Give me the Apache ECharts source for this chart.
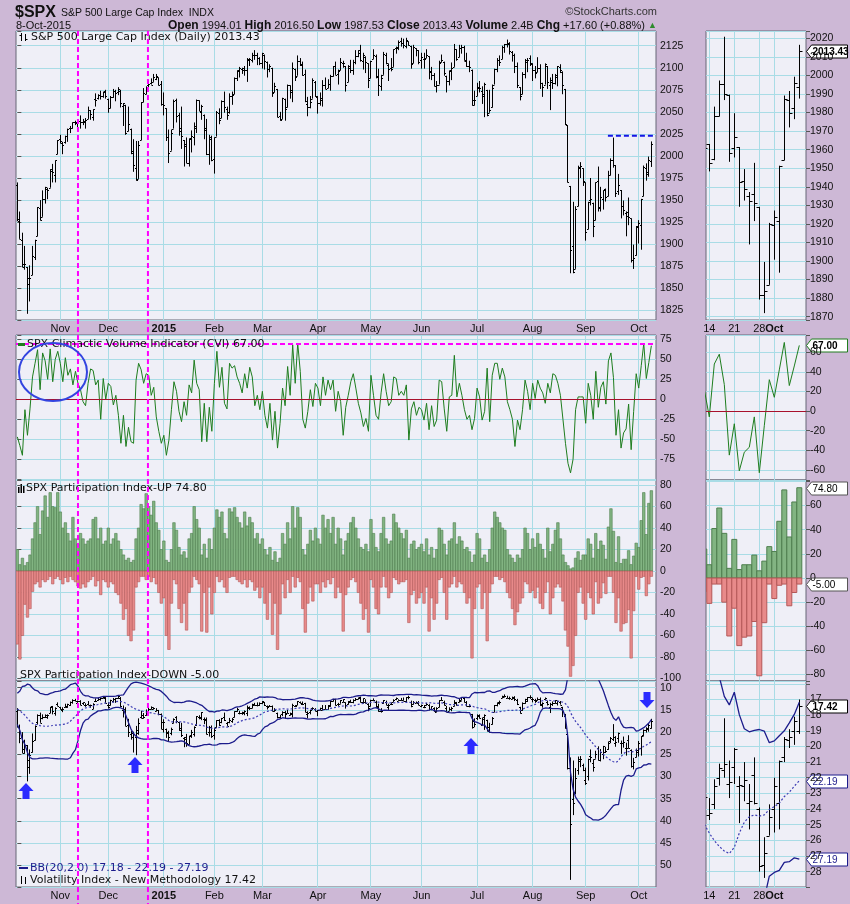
<!DOCTYPE html>
<html><head><meta charset="utf-8">
<script src="https://cdn.jsdelivr.net/npm/echarts@6/dist/echarts.min.js"></script>
<style>html,body{margin:0;padding:0;background:#CDB8D6;}#c{width:850px;height:904px;}</style>
</head><body><div id="c"></div>
<script>
// ---------------- DATA ----------------
const monthLabels = ['Nov','Dec','2015','Feb','Mar','Apr','May','Jun','Jul','Aug','Sep','Oct'];
const monthStartIdx = [17,36,58,78,97,119,140,160,182,204,225,246];
const dayLabels = ['14','21','28','Oct'];
const dayIdx = [233,238,243,246];

const spxOpen = [1967,1926,1905,1877,1874,1855,1865,1885,1909,1941,1931,1951,1962,1964,1983,1978,2002,
2019,2015,2016,2023,2032,2032,2039,2037,2040,2039,2038,2042,2052,2044,2065,2066,2069,2068,2074,
2065,2054,2067,2074,2072,2074,2057,2058,2028,2031,2006,1986,1974,2018,2061,2070,2081,2083,2084,2087,2089,2082,
2059,2054,2022,2006,2031,2063,2047,2032,2018,2014,1992,2020,2021,2034,2063,2050,2047,2032,2002,2019,
1997,2022,2049,2043,2062,2053,2050,2068,2070,2088,2096,2099,2098,2097,2109,2109,2115,2114,2111,
2105,2115,2107,2099,2100,2072,2076,2045,2042,2065,2055,2080,2073,2099,2091,2108,2103,2093,2059,2056,2065,2084,
2067,2060,2064,2081,2077,2082,2091,2102,2093,2097,2105,2102,2084,2102,2098,2107,2113,2120,2108,2112,2105,
2088,2110,2113,2091,2079,2092,2115,2103,2100,2101,2122,2122,2130,2128,2125,2130,2125,2105,2122,2120,
2109,2110,2111,2113,2095,2092,2079,2081,2106,2107,2091,2085,2097,2101,2121,2112,2122,2124,2109,2102,2098,2064,
2068,2078,2074,2070,2075,2049,2055,2081,2099,2109,2110,2124,2127,2127,2118,2114,2102,2078,2070,2093,2107,2111,
2105,2097,2095,2100,2083,2081,2102,2081,2084,2083,2090,2101,2095,2076,2035,1966,1898,1872,1943,1986,1986,
1970,1917,1950,1947,1927,1972,1941,1951.45,1963.06,1955.10,1978.02,1995.33,1989.66,1960.84,1961.39,1943.24,1934.81,1935.93,1929.18,1881.90,1887.14,
1919.65,1921.77,1954.33,1986.63,1982.34,1994.01];
const spxHigh = [1970,1937,1913,1898,1874,1876,1898,1905,1942,1950,1961,1965,1964,1985,1991,1995,2018,
2024,2016,2023,2031,2034,2038,2040,2039,2046,2042,2043,2056,2052,2053,2071,2070,2074,2073,2075,
2065,2068,2076,2075,2078,2075,2060,2058,2056,2031,2019,2017,2017,2061,2077,2079,2086,2088,2093,2093,2089,2085,
2072,2054,2030,2030,2064,2065,2049,2056,2018,2021,2020,2029,2038,2064,2063,2058,2047,2042,2024,2023,
2021,2051,2054,2063,2073,2056,2071,2073,2089,2097,2101,2100,2102,2111,2111,2117,2120,2117,2112,
2117,2115,2107,2104,2100,2083,2076,2050,2066,2065,2081,2080,2106,2099,2114,2111,2107,2098,2067,2068,2088,2085,
2068,2072,2086,2089,2087,2092,2102,2107,2098,2111,2108,2102,2103,2109,2109,2120,2120,2126,2117,2113,2105,
2108,2121,2115,2099,2092,2118,2117,2105,2111,2121,2124,2131,2134,2133,2134,2130,2125,2126,2122,2120,
2117,2117,2121,2113,2101,2094,2085,2108,2115,2107,2091,2097,2106,2127,2121,2126,2126,2125,2117,2108,2098,2074,
2083,2085,2079,2083,2075,2075,2081,2099,2111,2114,2125,2127,2132,2129,2119,2116,2106,2078,2095,2110,2111,2114,
2105,2102,2112,2104,2083,2105,2102,2089,2093,2093,2102,2104,2096,2076,2035,1966,1948,1943,1989,1993,1986,
1970,1948,1975,1947,1970,1988,1965,1961.05,1963.06,1983.19,1997.26,2020.86,1989.66,1979.64,1961.39,1949.52,1937.17,1952.89,1929.18,1899.48,1920.53,
1927.21,1951.36,1989.17,1991.62,1999.31,2016.50];
const spxLow = [1926,1906,1874,1871,1821,1835,1865,1882,1909,1927,1931,1946,1951,1964,1970,1970,2002,
2014,2002,2014,2016,2026,2031,2035,2031,2031,2035,2031,2042,2041,2040,2056,2064,2064,2066,2065,
2049,2054,2066,2062,2069,2055,2034,2024,2028,2002,1982,1972,1974,2018,2061,2070,2078,2081,2084,2086,2080,2057,
2046,2017,1992,2006,2031,2038,2023,2008,1988,1992,1988,2004,2012,2026,2051,2041,2019,2001,1990,1994,
1980,2022,2036,2043,2049,2041,2048,2058,2070,2085,2089,2093,2091,2084,2102,2106,2109,2103,2103,
2099,2098,2089,2095,2067,2072,2044,2040,2042,2040,2055,2065,2061,2085,2091,2102,2091,2061,2045,2054,2065,2067,
2048,2057,2056,2076,2077,2074,2090,2092,2081,2097,2100,2073,2084,2094,2092,2104,2112,2107,2098,2094,2077,
2088,2110,2088,2068,2074,2092,2104,2085,2096,2101,2116,2120,2124,2122,2122,2125,2099,2105,2113,2104,
2099,2099,2111,2087,2086,2079,2072,2081,2106,2091,2072,2080,2086,2101,2108,2112,2116,2108,2101,2095,2057,2057,
2068,2072,2059,2044,2045,2049,2055,2081,2095,2102,2110,2117,2123,2115,2107,2094,2077,2063,2070,2088,2095,2102,
2085,2088,2095,2076,2067,2081,2076,2052,2076,2081,2079,2094,2070,2035,1970,1867,1867,1872,1943,1975,1966,
1904,1917,1944,1908,1927,1937,1937,1939.19,1948.27,1954.30,1977.93,1986.73,1953.45,1955.80,1929.22,1932.57,1908.92,1921.50,1879.21,1871.91,1887.14,
1900.70,1893.70,1954.33,1971.99,1976.44,1987.53];
const spxClose = [1928,1906,1874,1878,1862,1862,1887,1905,1942,1927,1951,1965,1961,1985,1982,1995,2018,
2017,2012,2023,2031,2032,2038,2039,2038,2039,2040,2041,2052,2048,2053,2064,2069,2068,2073,2068,
2054,2067,2074,2071,2076,2060,2060,2026,2036,2003,1990,1973,2013,2061,2071,2078,2082,2081,2089,2091,2080,2059,
2058,2021,2003,2026,2062,2045,2028,2023,2011,1992,2019,2023,2032,2063,2051,2057,2030,2002,2021,1995,
2021,2050,2041,2062,2055,2047,2068,2069,2088,2097,2100,2100,2098,2110,2110,2115,2114,2111,2105,
2117,2108,2099,2102,2071,2079,2044,2041,2066,2053,2081,2075,2100,2090,2108,2104,2092,2062,2056,2061,2086,2068,
2060,2066,2081,2076,2082,2091,2102,2092,2096,2106,2105,2081,2100,2097,2107,2113,2117,2109,2115,2106,2086,
2108,2115,2089,2081,2088,2116,2105,2099,2099,2121,2123,2129,2128,2126,2131,2126,2104,2124,2120,2107,
2112,2110,2114,2096,2092,2079,2080,2105,2109,2094,2085,2096,2100,2121,2110,2122,2124,2108,2102,2101,2058,2063,
2077,2077,2068,2082,2046,2052,2077,2099,2109,2107,2124,2127,2128,2119,2114,2102,2080,2068,2093,2109,2109,2104,
2098,2094,2100,2083,2078,2104,2084,2086,2083,2092,2102,2097,2080,2036,1971,1893,1868,1940,1988,1989,1972,
1914,1948,1951,1921,1970,1942,1953,1961.05,1953.03,1978.09,1995.31,1990.20,1958.03,1966.97,1942.74,1938.76,1932.24,1931.34,1881.77,1884.09,1920.03,
1923.82,1951.36,1987.05,1979.92,1995.83,2013.43];

const vixOpen = [15.2,18.9,21.0,23.7,23.0,27.8,24.4,21.7,17.8,16.1,16.8,16.5,16.6,15.6,14.2,15.8,13.6,
14.3,15.1,14.3,14.4,13.8,13.3,12.8,13.4,13.0,13.5,14.0,13.6,13.9,14.7,13.0,12.8,12.5,12.4,12.4,
13.9,13.9,13.0,12.6,12.4,12.2,15.1,14.7,18.4,20.5,20.2,21.2,20.3,16.5,16.1,16.2,14.3,14.9,14.7,15.2,15.1,15.9,
17.8,19.2,20.3,20.2,17.9,16.6,17.8,19.0,21.4,21.1,22.7,20.7,20.4,18.3,16.7,16.9,17.0,17.0,19.9,19.9,
20.6,18.8,17.3,17.8,16.5,18.0,17.7,17.4,16.6,15.3,15.7,15.6,15.7,15.8,14.6,14.6,13.9,13.8,14.0,
13.5,13.3,14.1,14.1,14.1,15.2,15.7,16.6,16.0,15.5,15.6,16.2,15.9,14.1,13.8,13.3,13.6,13.5,15.9,15.4,14.6,14.9,
15.3,15.0,15.0,14.7,14.9,14.1,13.0,12.6,13.7,13.6,13.1,13.3,13.6,13.0,13.3,12.8,12.5,12.0,13.3,13.1,13.6,
14.2,12.7,13.1,14.2,15.3,13.4,13.2,14.3,13.6,13.1,12.6,12.9,12.7,12.7,13.0,12.1,13.1,13.7,13.5,13.4,
14.2,14.3,14.0,13.8,14.8,14.5,15.4,14.4,12.8,13.3,14.6,15.2,14.9,14.2,13.5,13.1,12.9,12.4,13.2,14.1,15.9,17.6,
16.9,16.3,18.3,16.7,17.3,18.9,18.2,15.4,14.0,13.3,12.2,12.0,12.2,12.4,12.5,12.2,12.7,14.4,15.0,13.4,12.9,12.1,
12.6,12.8,12.8,12.6,14.0,12.6,13.1,14.4,13.7,13.5,13.5,13.1,14.4,16.4,20.4,28.0,35.0,33.5,28.6,26.4,27.4,
30.7,29.8,25.3,27.0,26.0,23.5,26.2,24.9,24.4,23.7,22.0,21.5,22.4,21.3,22.5,22.5,23.6,21.8,24.0,27.6,25.7,
24.0,23.6,20.7,19.6,19.0,19.0];
const vixHigh = [18.9,22.5,24.7,24.9,31.1,29.4,24.6,21.9,18.3,17.9,17.1,16.8,17.0,15.7,16.0,16.3,14.1,
14.9,15.5,14.5,14.5,14.1,13.6,13.0,13.4,13.9,13.9,14.3,13.9,14.5,14.8,13.2,12.9,12.9,12.4,13.4,
14.7,14.0,13.3,13.4,12.5,14.3,16.7,18.6,21.1,21.7,24.6,25.2,20.6,16.9,17.0,16.3,15.3,14.9,14.9,15.3,16.2,19.3,
20.1,21.3,22.0,20.7,18.0,18.0,19.7,21.1,23.4,23.3,22.8,21.3,21.0,18.6,17.1,17.3,18.2,20.5,21.0,21.3,
21.7,19.0,18.6,18.0,17.5,18.6,18.0,17.9,16.7,15.4,16.0,16.1,16.2,16.4,15.0,14.6,14.0,14.2,14.1,
13.7,14.1,14.9,14.3,15.3,15.4,16.9,16.9,16.4,17.0,15.7,16.2,16.7,14.3,13.9,13.5,13.9,15.5,16.9,16.0,15.0,15.3,
16.4,15.1,15.1,14.8,14.9,14.3,13.1,14.0,14.1,13.6,13.3,14.7,13.8,13.4,13.5,13.0,12.6,13.3,13.6,13.5,15.3,
14.2,12.9,14.6,15.4,15.6,13.6,13.9,15.0,13.9,13.2,12.8,12.9,12.9,12.9,13.3,12.6,14.4,13.8,13.5,13.9,
14.4,14.6,14.0,15.1,15.1,15.4,15.5,14.4,12.9,14.0,15.4,15.2,15.3,14.2,14.0,13.3,12.9,13.3,14.2,14.4,19.2,18.9,
17.3,16.9,18.5,19.5,19.8,20.1,18.3,15.5,14.2,13.8,12.3,12.1,12.3,12.7,12.6,13.0,13.9,15.8,15.2,13.6,13.2,12.5,
13.3,13.4,12.9,14.1,14.5,12.7,14.0,15.7,14.1,13.6,14.0,13.8,16.6,19.2,28.4,53.3,38.7,34.0,29.6,27.9,28.8,
31.9,30.9,26.8,28.9,26.0,26.4,26.6,26.1,24.7,24.0,22.5,22.0,23.3,22.4,24.9,23.5,25.3,23.7,28.0,28.4,25.7,
25.5,25.3,21.0,20.1,19.9,19.2];
const vixLow = [14.6,18.3,20.0,21.7,22.9,23.9,20.3,18.5,16.0,15.6,16.0,16.0,16.0,14.3,14.1,14.4,13.3,
14.3,14.4,13.6,13.6,13.1,12.6,12.5,12.9,12.8,13.3,13.5,13.0,13.8,13.5,12.4,12.2,12.2,12.0,12.1,
13.3,12.7,12.3,12.3,11.8,12.1,14.0,14.4,17.0,19.7,19.9,18.6,16.9,15.2,15.7,14.9,14.3,14.2,14.4,14.6,15.0,15.8,
17.1,19.2,19.7,19.0,16.9,16.4,17.7,17.9,21.1,20.4,20.8,19.5,18.7,16.4,16.2,15.5,16.7,16.7,18.6,18.5,
19.0,17.3,17.1,16.8,15.6,17.7,16.8,16.8,15.3,14.5,15.2,15.4,15.1,14.0,14.2,13.6,13.4,13.3,13.3,
13.0,13.2,14.0,13.9,14.0,14.6,15.6,16.1,15.3,15.2,15.0,15.6,13.6,13.9,13.0,13.1,13.1,13.4,15.3,15.0,14.4,14.6,
15.0,14.5,13.9,13.9,13.9,13.0,12.5,12.5,13.4,12.8,12.6,13.3,13.0,12.7,12.6,12.3,12.2,12.0,12.4,12.6,13.5,
12.7,12.4,12.9,13.6,14.6,12.8,12.9,13.6,13.3,12.6,12.2,12.6,12.3,12.2,12.1,11.8,12.9,13.0,13.1,13.0,
13.8,13.9,13.4,13.7,14.2,14.4,14.4,12.8,12.1,12.9,14.1,14.4,14.3,12.8,13.2,12.5,12.1,12.3,13.0,13.7,15.9,16.9,
16.0,16.0,16.7,16.0,17.2,17.9,16.6,13.9,13.3,12.9,11.8,11.5,11.8,12.0,12.0,11.9,12.5,14.3,13.3,12.5,12.1,11.7,
12.2,12.5,12.2,12.2,13.3,12.2,12.9,13.4,13.1,12.8,12.9,13.0,14.3,15.9,20.0,25.7,26.4,28.1,25.5,25.4,27.1,
28.0,26.0,23.9,26.1,24.2,23.2,23.8,23.1,23.3,22.1,21.1,18.2,20.9,20.1,21.9,21.0,22.4,20.7,23.9,25.8,23.7,
22.0,20.9,19.4,18.9,18.1,17.0];
const vixClose = [18.76,21.24,24.64,22.79,26.25,25.20,21.99,18.57,16.08,17.87,16.53,16.11,16.04,14.39,15.15,14.52,14.03,
14.73,14.89,14.17,13.67,13.12,12.67,12.92,13.02,13.79,13.31,13.99,13.86,13.96,13.58,12.90,12.62,12.25,12.07,13.33,
14.29,12.85,12.47,12.38,11.82,14.21,14.89,18.53,20.08,21.08,20.42,19.44,17.98,16.81,16.49,15.25,14.80,14.37,14.50,15.06,15.92,19.20,
17.79,19.92,21.12,19.31,17.01,17.55,19.60,20.56,21.48,22.39,20.95,19.89,18.85,16.40,16.66,15.52,17.22,20.44,18.76,20.97,
19.43,17.33,18.33,16.85,17.29,18.55,17.23,16.96,15.34,14.69,15.80,15.45,15.29,14.30,14.56,13.69,13.84,13.91,13.34,
13.04,13.86,14.23,14.04,15.20,15.06,16.69,16.87,15.42,16.00,15.61,15.66,13.97,14.07,13.02,13.41,13.62,15.44,15.80,15.07,14.51,15.29,
15.11,14.67,14.74,14.78,13.98,13.09,12.58,13.94,13.67,12.84,12.60,13.89,13.30,13.25,12.71,12.48,12.29,13.12,12.41,13.39,14.55,
12.70,12.85,14.31,15.15,15.13,12.86,13.85,13.86,13.76,12.74,12.38,12.73,12.85,12.88,12.11,12.13,14.06,13.27,13.31,13.84,
13.97,14.24,13.66,14.71,14.21,15.29,14.47,12.85,12.85,13.78,15.39,14.81,14.50,13.19,13.96,12.74,12.11,13.26,14.01,14.02,18.85,18.23,
16.09,16.79,17.01,16.09,19.66,19.97,16.83,13.90,13.37,13.23,11.95,11.95,12.25,12.22,12.12,12.64,13.74,15.60,13.44,12.50,12.13,12.12,
12.56,13.00,12.51,13.77,13.39,12.23,13.71,13.61,13.49,12.83,13.02,13.79,15.25,19.14,28.03,40.74,36.02,30.32,26.10,26.05,28.43,
31.40,26.09,25.61,27.80,24.90,26.23,24.37,23.20,24.25,22.54,21.35,21.14,22.28,20.14,22.44,22.13,23.47,23.62,27.63,26.83,24.50,
22.55,20.94,19.54,19.40,18.40,17.42];
// VIX closes of the 20 sessions before the first bar (needed for BB(20,2))
const vixPriorClose = [12.80,13.31,14.12,12.73,12.65,12.03,12.11,13.69,14.93,13.27,15.64,14.85,15.98,16.31,16.71,16.16,14.55,15.46,17.20,15.11];

const cvi = [-47,-58,-70,-13,-45,-12,28,45,62,12,58,48,25,63,22,50,60,
45,22,52,30,38,18,35,20,12,-3,-8,20,38,36,18,24,-25,26,0,
20,16,-7,5,-20,-55,-20,-59,-35,-53,-55,24,45,37,20,32,30,5,15,-22,-40,-55,
-45,-70,-51,-13,22,10,-15,-28,-3,-20,18,8,49,20,12,-53,-5,-53,-10,-40,
20,60,15,40,-5,-12,45,39,42,28,20,8,32,14,40,28,-8,5,-13,
10,-20,-36,-5,-51,-15,-61,-30,14,-8,41,5,68,20,70,35,-25,-36,-15,12,-9,20,
14,-8,28,5,24,12,24,-15,10,-3,-45,-10,5,22,32,14,-5,-17,-34,-24,-40,
30,5,-20,-25,8,32,10,-8,-3,28,26,5,10,5,18,-51,-12,-3,-20,-10,
-13,-26,-5,-38,-8,-34,-26,24,22,-12,-40,3,5,55,3,20,5,-13,-25,-20,-38,-24,
14,3,-26,-15,39,-28,30,45,45,25,39,28,-3,-13,-25,-59,-26,-38,-13,24,10,-13,
20,1,24,14,8,-5,20,8,32,30,20,5,-25,-55,-80,-92,-75,-13,3,3,3,
-30,20,5,-25,35,-10,15,22,-6,48,58,27,-45,-13,-61,-42,-37,-6,-63,-15,32,
14,42,70,26,46,67];

const piUp = [20,6,12,5,8,15,30,45,60,34,56,70,50,73,60,59,73,
55,40,45,35,28,50,30,25,35,30,25,28,30,48,50,30,40,25,28,
40,25,30,35,28,20,15,10,12,8,10,30,40,62,58,72,60,52,65,45,38,20,
28,10,8,20,45,38,22,15,18,12,30,35,60,48,40,15,25,12,30,20,
40,57,50,55,35,30,58,55,59,50,45,40,55,42,50,45,30,35,25,
30,20,15,22,10,18,8,12,35,25,45,30,60,40,59,50,20,15,25,38,28,40,
30,25,52,40,48,35,50,25,40,30,15,28,35,45,50,40,30,22,20,25,18,
48,35,22,18,35,50,30,25,28,53,45,40,35,30,38,12,25,28,20,22,
25,18,30,15,22,12,20,40,38,25,15,28,30,45,25,32,28,20,22,18,8,15,
35,30,12,15,8,20,40,55,50,45,40,38,20,15,12,8,15,12,20,40,35,20,
30,22,35,25,20,12,40,18,25,38,45,30,15,8,5,2,3,12,18,10,15,
15,30,25,12,35,20,28,24,11,41,58,37,8,32,7,11,11,19,6,14,26,
22,47,73,34,63,74.8];
const piDown = [-68,-82,-60,-31,-43,-35,-19,-12,-10,-15,-8,-10,-8,-5,-12,-7,-5,
-8,-12,-6,-10,-5,-8,-10,-14,-16,-12,-15,-10,-8,-5,-14,-9,-22,-8,-10,
-15,-10,-12,-20,-22,-30,-45,-35,-60,-65,-55,-15,-10,-5,-5,-8,-5,-10,-6,-12,-20,-30,
-25,-60,-73,-30,-8,-12,-35,-48,-30,-55,-20,-15,-5,-8,-12,-56,-20,-57,-15,-40,
-20,-5,-10,-8,-15,-20,-6,-5,-5,-8,-10,-12,-8,-15,-8,-10,-18,-15,-25,
-15,-30,-45,-20,-59,-30,-73,-40,-12,-25,-8,-20,-5,-15,-6,-10,-35,-57,-30,-15,-28,-12,
-12,-20,-10,-15,-8,-12,-6,-25,-15,-20,-56,-22,-15,-8,-6,-10,-20,-30,-45,-35,-57,
-8,-15,-35,-40,-15,-5,-15,-25,-20,-6,-8,-12,-10,-10,-8,-48,-22,-18,-30,-25,
-20,-30,-15,-56,-25,-45,-30,-8,-6,-20,-45,-15,-12,-5,-15,-10,-12,-20,-30,-25,-81,-35,
-15,-12,-35,-20,-65,-20,-12,-5,-5,-8,-6,-10,-20,-25,-35,-50,-38,-30,-25,-10,-12,-20,
-18,-25,-15,-30,-35,-20,-10,-40,-25,-15,-12,-15,-28,-55,-70,-98,-88,-60,-20,-15,-30,
-45,-20,-25,-40,-10,-30,-25,-11,-21,-5,-5,-20,-48,-25,-56,-49,-48,-36,-81,-37,-5,
-17,-6,-5,-23,-12,-5];

// annotations drawn by the chartist
const markerIdx = [24, 51.7];          // magenta vertical dashed lines (bar index)
const resistance = {from: 233.8, level: 2023};
const cviMarkLevel = 69;

// ---------------- BUILD ----------------
const N = spxClose.length;
const I = Array.from({length: N}, (_, i) => i);
const spxData = I.map(i => [i, spxOpen[i], spxHigh[i], spxLow[i], spxClose[i]]);
const vixData = I.map(i => [i, vixOpen[i], vixHigh[i], vixLow[i], vixClose[i]]);
const cviData = I.map(i => [i, cvi[i]]);
const upData = I.map(i => [i, piUp[i]]);
const dnData = I.map(i => [i, piDown[i]]);
const allVix = vixPriorClose.concat(vixClose);
const bbMid = [], bbUp = [], bbLo = [];
for (let i = 0; i < N; i++) {
  const w = allVix.slice(i + 1, i + 21);
  const m = w.reduce((a, b) => a + b, 0) / w.length;
  const sd = Math.sqrt(w.reduce((a, b) => a + (b - m) * (b - m), 0) / w.length);
  bbMid.push([i, m]); bbUp.push([i, m + 2 * sd]); bbLo.push([i, m - 2 * sd]);
}

const BG = '#EFEFF7', GRIDC = '#A9DCE6', BORDER = '#666677';
const AXF = '"Liberation Sans", Arial, sans-serif';
const TF = '"DejaVu Sans", Verdana, sans-serif';
const paneY = [[31, 320], [335, 480], [480, 681], [681, 887]];
const sideX = [[16, 656], [706, 806]];
const xExt = [[-0.538, 252.84], [232.34, 252.34]];
const yCfg = [
  {min: 1814.0, max: 2141.7, step: 25},
  {min: -100.9, max: 80.4, step: 25, hide: [-100]},
  {min: -102.3, max: 84.7, step: 20},
  {min: 8.48, max: 54.9, step: 5, inverse: true},
  {min: 1868.2, max: 2023.95, step: 10},
  {min: -70.4, max: 77.6, step: 20},
  {min: -85.3, max: 81.2, step: 20, hide: [80]},
  {min: 15.82, max: 28.98, step: 1, inverse: true, hide: [16]}
];

const grid = [], xAxis = [], yAxis = [];
for (let s = 0; s < 2; s++) for (let p = 0; p < 4; p++) {
  const g = s * 4 + p;
  grid.push({left: sideX[s][0], top: paneY[p][0], width: sideX[s][1] - sideX[s][0],
    height: paneY[p][1] - paneY[p][0], show: true, backgroundColor: BG,
    borderColor: BORDER, borderWidth: 1, containLabel: false});
  xAxis.push({gridIndex: g, type: 'value', min: xExt[s][0], max: xExt[s][1], show: false});
  const c = yCfg[g];
  yAxis.push({gridIndex: g, type: 'value', position: 'right', min: c.min, max: c.max,
    minInterval: c.step, maxInterval: c.step, inverse: !!c.inverse, scale: true,
    axisLine: {show: false},
    axisTick: {show: true, length: 4, lineStyle: {color: '#555'}},
    axisLabel: {fontSize: 10.5, color: '#111', fontFamily: AXF, margin: 4,
      formatter: v => {
        const k = v / c.step;
        if (Math.abs(k - Math.round(k)) > 1e-6) return '';
        if (c.hide && c.hide.indexOf(Math.round(v)) >= 0) return '';
        return String(Math.round(v));
      }},
    splitLine: {show: true, lineStyle: {color: GRIDC, width: 1}}
  });
}

function vLines(g, vals) {
  return {type: 'custom', xAxisIndex: g, yAxisIndex: g, z: 1, silent: true, clip: true,
    data: vals.map(v => [v]), encode: {x: 0},
    renderItem: (params, api) => {
      const cs = params.coordSys;
      const x = Math.round(api.coord([api.value(0), yCfg[g].min])[0] - 0.5) + 0.5;
      return {type: 'line', shape: {x1: x, y1: cs.y, x2: x, y2: cs.y + cs.height},
        style: {stroke: GRIDC, lineWidth: 1}};
    }};
}
function xLabels(g, vals, labels, boldFn) {
  return {type: 'custom', xAxisIndex: g, yAxisIndex: g, z: 5, silent: true, clip: false,
    data: vals.map((v, k) => [v, k]), encode: {x: 0},
    renderItem: (params, api) => {
      const cs = params.coordSys;
      const k = api.value(1);
      const x = api.coord([api.value(0), yCfg[g].min])[0];
      const t = labels[k];
      return {type: 'text', x: x, y: cs.y + cs.height + 9,
        style: {text: t, fill: '#111', font: (boldFn(t) ? 'bold ' : '') + '11px ' + AXF,
          align: 'center', verticalAlign: 'middle'}};
    }};
}
function ohlc(g, data, tick) {
  return {type: 'custom', xAxisIndex: g, yAxisIndex: g, z: 3, clip: true, data: data,
    encode: {x: 0, y: [1, 2, 3, 4]},
    renderItem: (params, api) => {
      const i = api.value(0);
      const pH = api.coord([i, api.value(2)]), pL = api.coord([i, api.value(3)]);
      const yO = Math.round(api.coord([i, api.value(1)])[1]) + 0.5;
      const yC = Math.round(api.coord([i, api.value(4)])[1]) + 0.5;
      const x = Math.round(pH[0] - 0.5) + 0.5;
      const st = {stroke: '#000', lineWidth: 1};
      return {type: 'group', children: [
        {type: 'line', shape: {x1: x, y1: pH[1], x2: x, y2: pL[1]}, style: st},
        {type: 'line', shape: {x1: x - tick, y1: yO, x2: x, y2: yO}, style: st},
        {type: 'line', shape: {x1: x, y1: yC, x2: x + tick, y2: yC}, style: st}
      ]};
    }};
}
function bars(g, data, fill, stroke, lw) {
  return {type: 'custom', xAxisIndex: g, yAxisIndex: g, z: 3, clip: true, data: data,
    encode: {x: 0, y: 1},
    renderItem: (params, api) => {
      const i = api.value(0), v = api.value(1);
      const a = api.coord([i - 0.5, 0]), b = api.coord([i + 0.5, v]);
      return {type: 'rect', shape: {x: a[0], y: Math.min(a[1], b[1]), width: b[0] - a[0],
        height: Math.abs(b[1] - a[1])}, style: {fill: fill, stroke: stroke, lineWidth: lw}};
    }};
}
function line(g, data, color, width, type, extra) {
  return Object.assign({type: 'line', xAxisIndex: g, yAxisIndex: g, z: 3, data: data,
    showSymbol: false, symbol: 'none', clip: true, silent: true,
    lineStyle: {color: color, width: width, type: type || 'solid'}}, extra || {});
}
const zeroML = (extra) => ({silent: true, symbol: ['none', 'none'], label: {show: false},
  animation: false, data: [{yAxis: 0, lineStyle: {color: '#A8102C', width: 1, type: 'solid'}}].concat(extra || [])});

const boldLeft = t => t === '2015';
const boldRight = t => t === 'Oct';
const series = [];
for (let g = 0; g < 4; g++) series.push(vLines(g, monthStartIdx));
for (let g = 4; g < 8; g++) series.push(vLines(g, dayIdx));
series.push(xLabels(0, monthStartIdx, monthLabels, boldLeft));
series.push(xLabels(3, monthStartIdx, monthLabels, boldLeft));
series.push(xLabels(4, dayIdx, dayLabels, boldRight));
series.push(xLabels(7, dayIdx, dayLabels, boldRight));
// left panes
series.push(ohlc(0, spxData, 1.5));
series.push(line(0, [[resistance.from, resistance.level], [xExt[0][1], resistance.level]], '#1414E6', 2, [5, 3]));
series.push(line(1, cviData, '#1E7D1E', 1, 'solid', {markLine: zeroML([
  {yAxis: cviMarkLevel, lineStyle: {color: '#FF00FF', width: 2, type: [5, 3]}}])}));
series.push(bars(2, upData, '#82B482', '#4E7E4E', 0.6));
series.push(bars(2, dnData, '#E88A8A', '#B45858', 0.6));
series.push(line(3, bbUp, '#1C1C8C', 1.3));
series.push(line(3, bbLo, '#1C1C8C', 1.3));
series.push(line(3, bbMid, '#3C3CB4', 1.2, [2, 2]));
series.push(ohlc(3, vixData, 1.5));
// right panes
series.push(ohlc(4, spxData, 3));
series.push(line(5, cviData, '#1E7D1E', 1, 'solid', {markLine: zeroML()}));
series.push(bars(6, upData, '#82B482', '#4E7E4E', 1));
series.push(bars(6, dnData, '#E88A8A', '#B45858', 1));
series.push(line(7, bbUp, '#1C1C8C', 1.3));
series.push(line(7, bbLo, '#1C1C8C', 1.3));
series.push(line(7, bbMid, '#3C3CB4', 1.2, [2, 2]));
series.push(ohlc(7, vixData, 3));

const chart = echarts.init(document.getElementById('c'), null, {renderer: 'canvas'});
chart.setOption({animation: false, backgroundColor: '#CDB8D6', grid, xAxis, yAxis, series});

// ---------------- overlay texts / annotations ----------------
const last = N - 1;
const f2 = v => v.toFixed(2);
const chg = spxClose[last] - spxClose[last - 1];
const pct = chg / spxClose[last - 1] * 100;
const gr = [];
const T = (x, y, text, font, fill, align, z) => ({type: 'text', x, y, z: z || 150,
  style: {text, font, fill: fill || '#111', align: align || 'left', verticalAlign: 'middle'}});
gr.push(T(15, 13, '$SPX', 'bold 16px ' + AXF));
gr.push(T(61, 13, 'S&P 500 Large Cap Index  INDX', '10.5px ' + AXF));
gr.push(T(657, 12, '\u00A9StockCharts.com', '11px ' + AXF, '#333', 'right'));
gr.push(T(16, 26, '8-Oct-2015', '11px ' + AXF));
gr.push({type: 'text', x: 657, y: 26, z: 150, style: {
  text: '{b|Open} ' + f2(spxOpen[last]) + ' {b|High} ' + f2(spxHigh[last]) + ' {b|Low} ' + f2(spxLow[last]) +
    ' {b|Close} ' + f2(spxClose[last]) + ' {b|Volume} 2.4B {b|Chg} ' + (chg >= 0 ? '+' : '') + f2(chg) +
    ' (' + (pct >= 0 ? '+' : '') + f2(pct) + '%) {g|\u25B2}',
  font: '11px ' + AXF, fill: '#111', align: 'right', verticalAlign: 'middle',
  rich: {b: {font: 'bold 12px ' + AXF, fill: '#111'}, g: {font: '9px ' + AXF, fill: '#2E8B2E'}}}});

// pane titles
const TFONT = '11px ' + TF;
gr.push(T(31, 37, 'S&P 500 Large Cap Index (Daily) ' + f2(spxClose[last]), TFONT));
gr.push({type: 'group', z: 150, children: [
  {type: 'line', shape: {x1: 21.5, y1: 33, x2: 21.5, y2: 41}, style: {stroke: '#000', lineWidth: 1}},
  {type: 'line', shape: {x1: 19.5, y1: 35.5, x2: 21.5, y2: 35.5}, style: {stroke: '#000', lineWidth: 1}},
  {type: 'line', shape: {x1: 25.5, y1: 34, x2: 25.5, y2: 41}, style: {stroke: '#000', lineWidth: 1}},
  {type: 'line', shape: {x1: 25.5, y1: 39.5, x2: 27.5, y2: 39.5}, style: {stroke: '#000', lineWidth: 1}}]});
gr.push({type: 'rect', z: 150, shape: {x: 18, y: 343, width: 7, height: 3}, style: {fill: '#1E7D1E'}});
gr.push(T(27, 344, 'SPX Climactic Volume Indicator (CVI) ' + f2(cvi[last]), TFONT));
gr.push({type: 'group', z: 150, children: [
  {type: 'rect', shape: {x: 18, y: 487, width: 1.5, height: 6}, style: {fill: '#000'}},
  {type: 'rect', shape: {x: 20.5, y: 484, width: 1.5, height: 9}, style: {fill: '#000'}},
  {type: 'rect', shape: {x: 23, y: 486, width: 1.5, height: 7}, style: {fill: '#000'}}]});
gr.push(T(26, 488, 'SPX Participation Index-UP ' + f2(piUp[last]), TFONT));
gr.push(T(20, 675, 'SPX Participation Index-DOWN ' + f2(piDown[last]), TFONT));
const bbL = bbLo[last][1], bbM = bbMid[last][1], bbU = bbUp[last][1];
gr.push({type: 'rect', z: 150, shape: {x: 19, y: 867, width: 9, height: 2}, style: {fill: '#1C1C8C'}});
gr.push(T(30, 868, 'BB(20,2.0) ' + f2(bbL) + ' - ' + f2(bbM) + ' - ' + f2(bbU), TFONT, '#1C1C8C'));
gr.push({type: 'group', z: 150, children: [
  {type: 'line', shape: {x1: 21.5, y1: 876, x2: 21.5, y2: 884}, style: {stroke: '#000', lineWidth: 1}},
  {type: 'line', shape: {x1: 25.5, y1: 877, x2: 25.5, y2: 884}, style: {stroke: '#000', lineWidth: 1}}]});
gr.push(T(30, 880, 'Volatility Index - New Methodology ' + f2(vixClose[last]), TFONT));

// magenta vertical markers
markerIdx.forEach(v => {
  const x = chart.convertToPixel({xAxisIndex: 0}, v);
  gr.push({type: 'line', z: 160, shape: {x1: x, y1: 31, x2: x, y2: 904},
    style: {stroke: '#FF00FF', lineWidth: 2, lineDash: [5, 3]}});
});
// blue circle on CVI
gr.push({type: 'ellipse', z: 160, shape: {cx: 53, cy: 372, rx: 34, ry: 29},
  style: {stroke: '#3344E0', lineWidth: 2, fill: null}});
// arrows
function arrow(cx, ty, up) {
  const h = 16, hw = 7.5, sw = 3.5, hh = 8;
  let pts;
  if (up) pts = [[cx, ty], [cx + hw, ty + hh], [cx + sw, ty + hh], [cx + sw, ty + h], [cx - sw, ty + h], [cx - sw, ty + hh], [cx - hw, ty + hh]];
  else pts = [[cx, ty + h], [cx + hw, ty + h - hh], [cx + sw, ty + h - hh], [cx + sw, ty], [cx - sw, ty], [cx - sw, ty + h - hh], [cx - hw, ty + h - hh]];
  return {type: 'polygon', z: 160, shape: {points: pts}, style: {fill: '#2B2BFF'}};
}
gr.push(arrow(26, 783, true), arrow(135, 757, true), arrow(471, 738, true), arrow(647, 692, false));

// right-side value boxes
function box(axis, val, text, border, color, bold) {
  const y = Math.round(chart.convertToPixel({yAxisIndex: axis}, val)) + 0.5;
  const x = 806.5;
  return {type: 'group', z: 170, children: [
    {type: 'polygon', shape: {points: [[x, y], [x + 5, y - 6.5], [x + 41, y - 6.5], [x + 41, y + 6.5], [x + 5, y + 6.5]]},
      style: {fill: '#fff', stroke: border, lineWidth: 1}},
    {type: 'text', x: x + 6, y: y + 0.5, style: {text, fill: color, font: (bold ? 'bold ' : '') + '10px ' + AXF,
      align: 'left', verticalAlign: 'middle'}}]};
}
gr.push(box(4, spxClose[last], f2(spxClose[last]), '#000', '#000', true));
gr.push(box(5, cvi[last], f2(cvi[last]), '#1E7D1E', '#000', true));
gr.push(box(6, piUp[last], f2(piUp[last]), '#555', '#000', false));
gr.push(box(6, piDown[last], f2(piDown[last]), '#555', '#000', false));
gr.push(box(7, vixClose[last], f2(vixClose[last]), '#000', '#000', true));
gr.push(box(7, bbM, f2(bbM), '#1C1C8C', '#1C1C8C', false));
gr.push(box(7, bbU, f2(bbU), '#1C1C8C', '#1C1C8C', false));

chart.setOption({graphic: gr});
</script></body></html>
